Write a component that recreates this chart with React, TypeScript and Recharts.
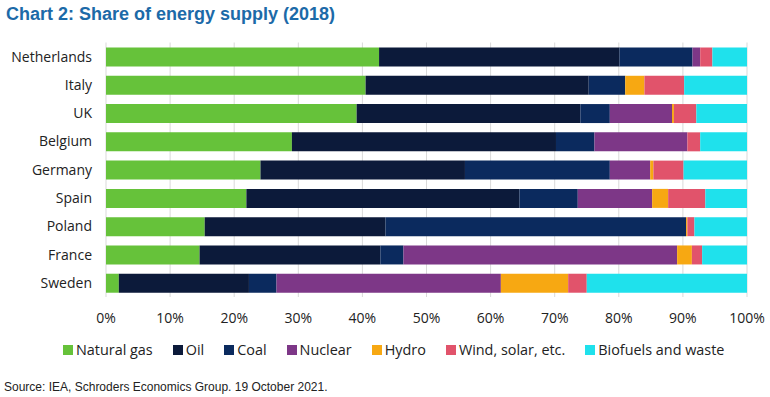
import React from 'react';
import { BarChart, Bar, XAxis, YAxis, CartesianGrid } from 'recharts';

const countries = ['Netherlands', 'Italy', 'UK', 'Belgium', 'Germany', 'Spain', 'Poland', 'France', 'Sweden'];
const naturalGas = [42.6, 40.5, 39.1, 29.0, 24.1, 21.9, 15.4, 14.6, 2.0];
const oil = [37.5, 34.8, 34.9, 41.2, 31.9, 42.6, 28.2, 28.2, 20.3];
const coal = [11.4, 5.7, 4.6, 6.0, 22.6, 9.1, 46.9, 3.6, 4.3];
const nuclear = [1.2, 0, 9.7, 14.5, 6.3, 11.6, 0, 42.7, 35.0];
const hydro = [0, 3.0, 0.3, 0, 0.5, 2.5, 0.2, 2.3, 10.5];
const windSolar = [1.9, 6.2, 3.5, 2.0, 4.7, 5.8, 1.1, 1.6, 2.9];
const biofuels = [5.4, 9.8, 7.9, 7.3, 9.9, 6.5, 8.2, 7.0, 25.0];
const xTicks = [0, 10, 20, 30, 40, 50, 60, 70, 80, 90, 100];

const seriesNames = ['Natural gas', 'Oil', 'Coal', 'Nuclear', 'Hydro', 'Wind, solar, etc.', 'Biofuels and waste'];
const seriesKeys = ['gas', 'oil', 'coal', 'nuclear', 'hydro', 'wind', 'bio'];
const seriesColors = ['#66c23a', '#0c1a3a', '#0b2a5e', '#7d3787', '#f7a812', '#e1536b', '#1fe1ec'];
const seriesValues = [naturalGas, oil, coal, nuclear, hydro, windSolar, biofuels];

const data = countries.map((name, i) => {
  const row: Record<string, string | number> = { name };
  seriesKeys.forEach((k, s) => {
    row[k] = seriesValues[s][i];
  });
  return row;
});

const labelFont = '"Open Sans", sans-serif';

export default function App() {
  return (
    <div style={{ position: 'fixed', left: 0, top: 0, width: 770, height: 397, background: '#fff', overflow: 'hidden' }}>
      <div
        style={{
          position: 'absolute',
          left: 6,
          top: 4,
          fontFamily: '"Liberation Sans", Arial, sans-serif',
          fontWeight: 'bold',
          fontSize: 18,
          color: '#1c6aa8',
          whiteSpace: 'nowrap',
          lineHeight: '20px',
        }}
      >
        Chart 2: Share of energy supply (2018)
      </div>
      <div style={{ position: 'absolute', left: 0, top: 0 }}>
        <BarChart
          width={770}
          height={340}
          data={data}
          layout="vertical"
          margin={{ top: 42.5, right: 23, bottom: 13, left: 0 }}
          barSize={19}
        >
          <CartesianGrid horizontal={false} vertical={true} stroke="#d9d9d9" />
          <XAxis
            type="number"
            domain={[0, 100]}
            ticks={xTicks}
            allowDataOverflow
            tickFormatter={(v: number) => `${v}%`}
            axisLine={false}
            tickLine={false}
            tickMargin={10}
            height={30}
            interval={0}
            tick={{ fontSize: 14, fill: '#222', fontFamily: labelFont }}
          />
          <YAxis
            type="category"
            dataKey="name"
            width={106}
            axisLine={false}
            tickLine={false}
            tickMargin={8}
            interval={0}
            tick={{ fontSize: 14, fill: '#222', fontFamily: labelFont }}
          />
          {seriesKeys.map((k, s) => (
            <Bar key={k} dataKey={k} name={seriesNames[s]} stackId="a" fill={seriesColors[s]} isAnimationActive={false} />
          ))}
        </BarChart>
      </div>
      <div
        style={{
          position: 'absolute',
          left: 63,
          top: 340,
          display: 'flex',
          alignItems: 'center',
          fontFamily: labelFont,
          fontSize: 14.4,
          color: '#222',
          whiteSpace: 'nowrap',
          lineHeight: '20px',
        }}
      >
        {seriesNames.map((n, s) => (
          <div key={n} style={{ display: 'flex', alignItems: 'center', marginRight: 20 }}>
            <span style={{ display: 'inline-block', width: 10, height: 10, background: seriesColors[s], marginRight: 3 }} />
            <span>{n}</span>
          </div>
        ))}
      </div>
      <div
        style={{
          position: 'absolute',
          left: 4,
          top: 380,
          fontFamily: '"Liberation Sans", Arial, sans-serif',
          fontSize: 12,
          color: '#222',
          whiteSpace: 'nowrap',
          lineHeight: '14px',
        }}
      >
        Source: IEA, Schroders Economics Group. 19 October 2021.
      </div>
    </div>
  );
}
